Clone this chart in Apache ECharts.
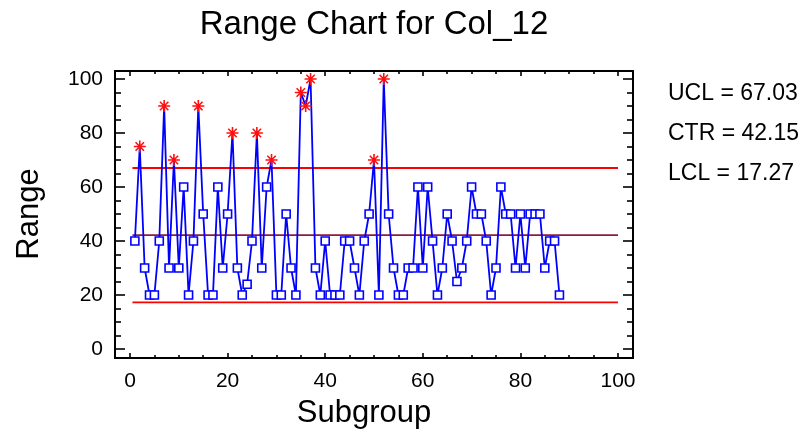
<!DOCTYPE html>
<html>
<head>
<meta charset="utf-8">
<script src="https://cdn.jsdelivr.net/npm/echarts@6/dist/echarts.min.js"></script>
<style>
  html, body { margin: 0; padding: 0; background: #fff; }
  #chart { width: 803px; height: 439px; }
</style>
</head>
<body>
<div id="chart"></div>
<script>
// ---- Data ----
const chartTitle = 'Range Chart for Col_12';
const xAxisTitle = 'Subgroup';
const yAxisTitle = 'Range';
const subgroup = [1,2,3,4,5,6,7,8,9,10,11,12,13,14,15,16,17,18,19,20,
  21,22,23,24,25,26,27,28,29,30,31,32,33,34,35,36,37,38,39,40,
  41,42,43,44,45,46,47,48,49,50,51,52,53,54,55,56,57,58,59,60,
  61,62,63,64,65,66,67,68,69,70,71,72,73,74,75,76,77,78,79,80,
  81,82,83,84,85,86,87,88];
const rangeValues = [40,75,30,20,20,40,90,30,70,30,
  60,20,40,90,50,20,20,60,30,50,
  80,30,20,24,40,80,30,60,70,20,
  20,50,30,20,95,90,100,30,20,40,
  20,20,20,40,40,30,20,40,50,70,
  20,100,50,30,20,20,30,30,60,30,
  60,40,20,30,50,40,25,30,40,60,
  50,50,40,20,30,60,50,50,30,50,
  30,50,50,50,30,40,40,20];
const UCL = 67.03;
const CTR = 42.15;
const LCL = 17.27;
const limitStart = 0.5;
const limitEnd = 100;
const xTicks = [0, 20, 40, 60, 80, 100];
const yTicks = [0, 20, 40, 60, 80, 100];
const frameRange = [-3, 103];

// ---- Styles ----
const FONT = '"Liberation Sans", Arial, sans-serif';
const STAR = 'path://M0,5L10,5M5,0L5,10M1.5,1.5L8.5,8.5M8.5,1.5L1.5,8.5';

const pts = rangeValues.map((v, i) => {
  const out = v > UCL;
  return {
    value: [subgroup[i], v],
    symbol: out ? STAR : 'rect',
    symbolSize: out ? 12 : 8,
    itemStyle: out
      ? { color: '#ff0000', borderColor: '#ff1010', borderWidth: 1.6 }
      : { color: '#ffffff', borderColor: '#0000ff', borderWidth: 1.6 }
  };
});

function limitLine(val, color) {
  return {
    type: 'line', xAxisIndex: 1, yAxisIndex: 1,
    data: [[limitStart, val], [limitEnd, val]],
    symbol: 'none', silent: true, animation: false,
    lineStyle: { color: color, width: 1.8 }, z: 2
  };
}

const tickStyle = { color: '#000', width: 1.6 };
const xBase = {
  type: 'value', gridIndex: 1,
  min: xTicks[0], max: xTicks[xTicks.length - 1], interval: xTicks[1] - xTicks[0],
  axisLine: { show: false, onZero: false }, splitLine: { show: false },
  axisTick: { show: true, inside: true, length: 5, lineStyle: tickStyle },
  minorTick: { show: true, splitNumber: 4, length: 3, lineStyle: tickStyle }
};
const yBase = {
  type: 'value', gridIndex: 1,
  min: yTicks[0], max: yTicks[yTicks.length - 1], interval: yTicks[1] - yTicks[0],
  axisLine: { show: false, onZero: false }, splitLine: { show: false },
  axisTick: { show: true, inside: true, length: 10, lineStyle: tickStyle },
  minorTick: { show: true, splitNumber: 4, length: 6, lineStyle: tickStyle }
};

const chart = echarts.init(document.getElementById('chart'), null, { renderer: 'canvas' });
chart.setOption({
  animation: false,
  backgroundColor: '#ffffff',
  textStyle: { fontFamily: FONT },
  title: [
    { text: chartTitle, left: 374, top: 8, textAlign: 'center', padding: 0,
      textStyle: { fontFamily: FONT, fontSize: 33, fontWeight: 'normal', color: '#000' } },
    { text: 'UCL = ' + UCL.toFixed(2), left: 668, top: 82, padding: 0,
      textStyle: { fontFamily: FONT, fontSize: 23, fontWeight: 'normal', color: '#000' } },
    { text: 'CTR = ' + CTR.toFixed(2), left: 668, top: 122, padding: 0,
      textStyle: { fontFamily: FONT, fontSize: 23, fontWeight: 'normal', color: '#000' } },
    { text: 'LCL = ' + LCL.toFixed(2), left: 668, top: 162, padding: 0,
      textStyle: { fontFamily: FONT, fontSize: 23, fontWeight: 'normal', color: '#000' } }
  ],
  grid: [
    { left: 115, right: 170, top: 71, bottom: 81, show: true,
      borderColor: '#000', borderWidth: 2, backgroundColor: 'transparent' },
    { left: 130, right: 185, top: 79, bottom: 90 }
  ],
  xAxis: [
    { type: 'value', gridIndex: 0, min: frameRange[0], max: frameRange[1], show: false },
    Object.assign({}, xBase, {
      position: 'bottom', offset: 9,
      axisLabel: { show: true, margin: 13, fontFamily: FONT, fontSize: 21, color: '#000' },
      name: xAxisTitle, nameLocation: 'middle', nameGap: 40,
      nameTextStyle: { fontFamily: FONT, fontSize: 31, color: '#000', padding: [0, 20, 0, 0] }
    }),
    Object.assign({}, xBase, {
      position: 'top', offset: 8, axisLabel: { show: false }
    })
  ],
  yAxis: [
    { type: 'value', gridIndex: 0, min: frameRange[0], max: frameRange[1], show: false },
    Object.assign({}, yBase, {
      position: 'left', offset: 15,
      axisLabel: { show: true, margin: 12, fontFamily: FONT, fontSize: 21, color: '#000' },
      name: yAxisTitle, nameLocation: 'middle', nameGap: 70,
      nameTextStyle: { fontFamily: FONT, fontSize: 31, color: '#000' }
    }),
    Object.assign({}, yBase, {
      position: 'right', offset: 15, axisLabel: { show: false }
    })
  ],
  series: [
    limitLine(UCL, '#ff0000'),
    limitLine(CTR, '#8b1c3c'),
    limitLine(LCL, '#ff0000'),
    {
      type: 'line', xAxisIndex: 1, yAxisIndex: 1,
      data: pts, clip: false, z: 5,
      showAllSymbol: true,
      lineStyle: { color: '#0000ff', width: 1.8 },
      itemStyle: { color: '#ffffff', borderColor: '#0000ff', borderWidth: 1.6 }
    }
  ]
});
</script>
</body>
</html>
